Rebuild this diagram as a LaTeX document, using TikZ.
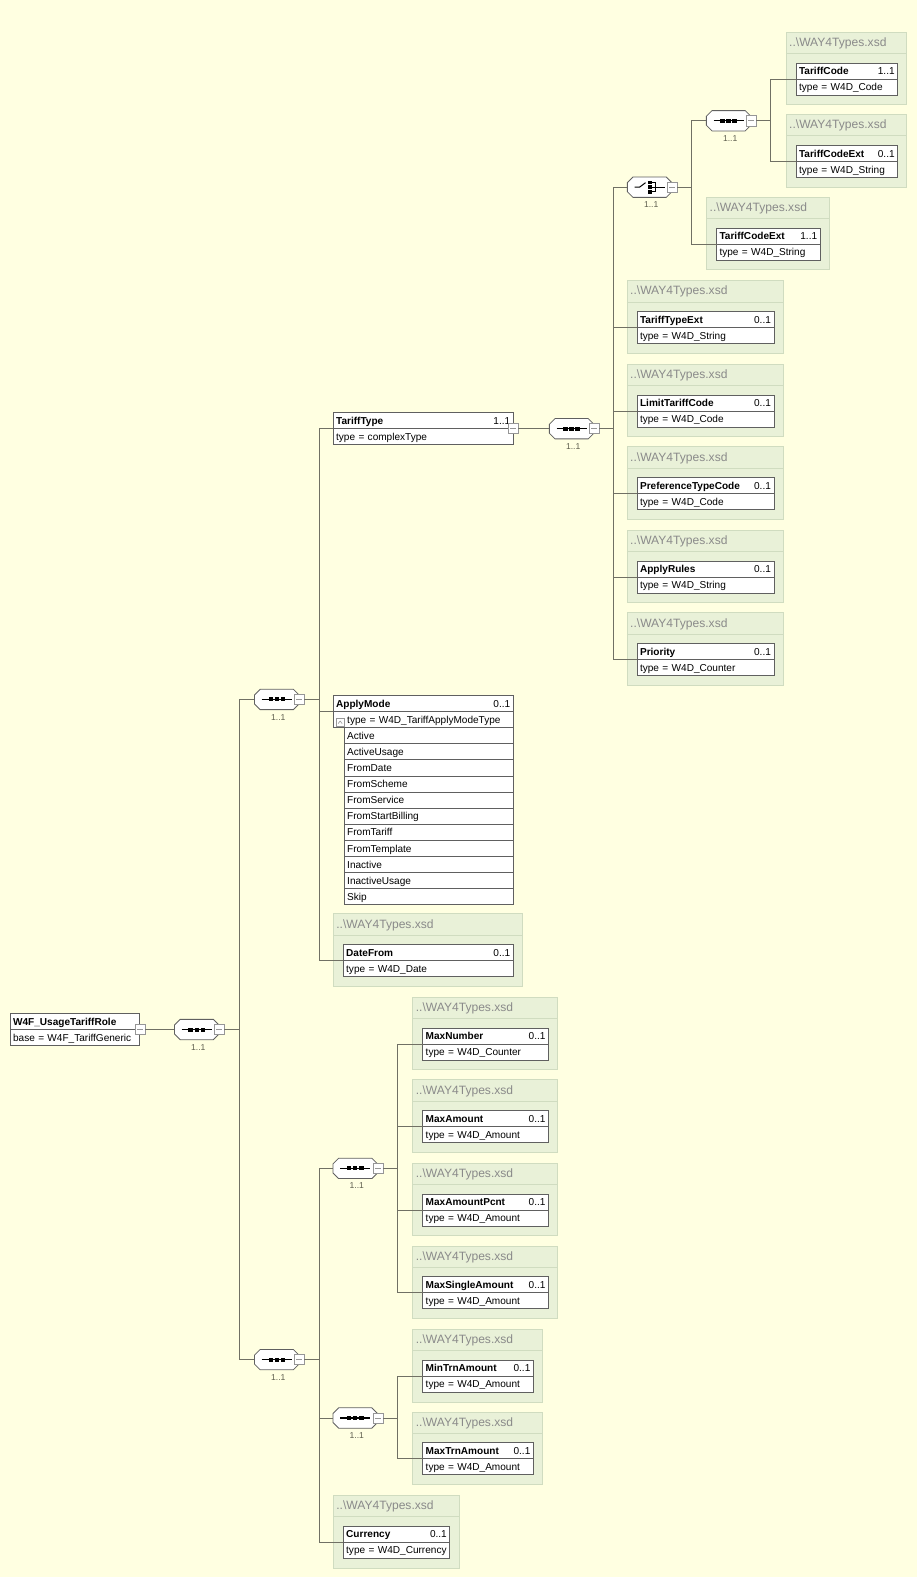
\documentclass[tikz,border=0pt]{standalone}
\usepackage{fontspec}
\setmainfont{Liberation Sans}
\definecolor{bgyellow}{RGB}{255,255,225}
\definecolor{grpfill}{RGB}{233,241,216}
\definecolor{grpline}{RGB}{208,220,192}
\definecolor{xsdgray}{RGB}{138,138,138}
\definecolor{boxline}{RGB}{96,96,96}
\definecolor{wirecol}{RGB}{112,112,100}
\definecolor{btngray}{RGB}{150,150,150}
\definecolor{multcol}{RGB}{92,92,76}
\newcommand\elfont{\fontsize{10}{12}\selectfont}
\newcommand\xsdfont{\fontsize{12}{14}\selectfont}
\newcommand\multfont{\fontsize{8.5}{10}\selectfont}
\newcommand\xsdname{..\textbackslash WAY4Types.xsd}
\newcommand\multgap{\hskip 0pt plus 1filll\relax}
\newcommand\compoutline{\draw[boxline, line width=0.8pt, fill=white]
  ([xshift=6pt,yshift=-0.4pt]path picture bounding box.north west) --
  ([xshift=-6pt,yshift=-0.4pt]path picture bounding box.north east) --
  ([xshift=-0.4pt,yshift=-6pt]path picture bounding box.north east) --
  ([xshift=-0.4pt,yshift=6pt]path picture bounding box.south east) --
  ([xshift=-6pt,yshift=0.4pt]path picture bounding box.south east) --
  ([xshift=6pt,yshift=0.4pt]path picture bounding box.south west) --
  ([xshift=0.4pt,yshift=6pt]path picture bounding box.south west) --
  ([xshift=0.4pt,yshift=-6pt]path picture bounding box.north west) -- cycle;}
\tikzset{
  wire/.style={draw=wirecol, line width=0.8pt},
  elhead/.style={draw=boxline, line width=0.8pt, fill=white, anchor=north west,
    minimum height=16pt, inner xsep=3pt, inner ysep=0pt, outer sep=0pt, text height=7.2pt,
    text depth=0pt, align=left, font=\elfont, text width=#1},
  elrow/.style={elhead=#1},
  grp/.style={draw=grpline, line width=0.8pt, fill=grpfill, anchor=north west,
    inner sep=0pt, outer sep=0pt, minimum height=72pt, minimum width=#1,
    path picture={\draw[grpline, line width=0.8pt]
      ([yshift=-21pt]path picture bounding box.north west) --
      ([yshift=-21pt]path picture bounding box.north east);}},
  grptitle/.style={anchor=west, text=xsdgray, font=\xsdfont, inner sep=0pt},
  comp/.style={minimum width=45pt, minimum height=21pt, inner sep=0pt, outer sep=0pt},
  seqcomp/.style={comp, path picture={\compoutline
    \draw[line width=1.3pt] ([xshift=-15pt]path picture bounding box.center) --
      ([xshift=15pt]path picture bounding box.center);
    \fill ([xshift=-6pt]path picture bounding box.center) +(-2.2pt,-2pt) rectangle +(2.2pt,2pt);
    \fill (path picture bounding box.center) +(-2.2pt,-2pt) rectangle +(2.2pt,2pt);
    \fill ([xshift=6pt]path picture bounding box.center) +(-2.2pt,-2pt) rectangle +(2.2pt,2pt);}},
  choicecomp/.style={comp, path picture={\compoutline
    \draw[line width=1pt] ([xshift=-15pt]path picture bounding box.center) --
      ([xshift=-10pt]path picture bounding box.center) --
      ([xshift=-4pt,yshift=4.5pt]path picture bounding box.center);
    \fill ([xshift=0.5pt,yshift=4.6pt]path picture bounding box.center) +(-2pt,-1.8pt) rectangle +(2pt,1.8pt);
    \fill ([xshift=0.5pt]path picture bounding box.center) +(-2pt,-1.8pt) rectangle +(2pt,1.8pt);
    \fill ([xshift=0.5pt,yshift=-4.6pt]path picture bounding box.center) +(-2pt,-1.8pt) rectangle +(2pt,1.8pt);
    \draw[line width=1pt] ([xshift=2pt,yshift=4.6pt]path picture bounding box.center) --
      ([xshift=6pt,yshift=4.6pt]path picture bounding box.center) --
      ([xshift=6pt,yshift=-4.6pt]path picture bounding box.center) --
      ([xshift=2pt,yshift=-4.6pt]path picture bounding box.center);
    \draw[line width=1pt] ([xshift=2pt]path picture bounding box.center) --
      ([xshift=15pt]path picture bounding box.center);}},
  minusbtn/.style={draw=btngray, line width=0.6pt, fill=white, minimum size=10pt, inner sep=0pt,
    outer sep=0pt,
    path picture={\draw[btngray, line width=0.6pt]
      ([xshift=-3pt]path picture bounding box.center) --
      ([xshift=3pt]path picture bounding box.center);}},
  upbtn/.style={draw=btngray, line width=0.6pt, fill=white, minimum size=8pt, inner sep=0pt,
    path picture={\draw[line width=0.6pt]
      ([xshift=-2pt,yshift=-1pt]path picture bounding box.center) --
      ([yshift=1.5pt]path picture bounding box.center) --
      ([xshift=2pt,yshift=-1pt]path picture bounding box.center);}},
  mult/.style={text=multcol, font=\multfont, inner sep=0pt}
}
\begin{document}
\begin{tikzpicture}[x=1pt,y=-1pt]
\fill[bgyellow] (0,0) rectangle (911,1567);
\useasboundingbox (0,0) rectangle (911,1567);

\node[elhead=123pt] (root) at (10,1007) {\textbf{W4F\_UsageTariffRole}};
\node[elrow=123pt] (rootb) at (root.south west) {base = W4F\_TariffGeneric};
\node[minusbtn] (rootm) at (root.south east) {};

\node[seqcomp] (c1) at (195.5,1023) {};
\node[minusbtn] (c1m) at (c1.east) {};
\node[mult] (c1l) at ([xshift=1.5pt,yshift=-17.5pt]c1.center) {1..1};
\coordinate (t1) at ([xshift=14.5pt]c1m.east);

\node[seqcomp] (c2) at (275,695) {};
\node[minusbtn] (c2m) at (c2.east) {};
\node[mult] (c2l) at ([xshift=1.5pt,yshift=-17.5pt]c2.center) {1..1};
\coordinate (t2) at ([xshift=14.5pt]c2m.east);

\node[elhead=173pt] (tt) at (331,410) {\textbf{TariffType}\multgap 1..1};
\node[elrow=173pt] (ttb) at (tt.south west) {type = complexType};
\node[minusbtn] (ttm) at (tt.south east) {};

\node[seqcomp] (c3) at (568,426) {};
\node[minusbtn] (c3m) at (c3.east) {};
\node[mult] (c3l) at ([xshift=1.5pt,yshift=-17.5pt]c3.center) {1..1};
\coordinate (t3) at ([xshift=14.5pt]c3m.east);

\node[choicecomp] (ch) at (645.5,186) {};
\node[minusbtn] (chm) at (ch.east) {};
\node[mult] (chl) at ([xshift=1.5pt,yshift=-17.5pt]ch.center) {1..1};
\coordinate (t4) at ([xshift=14.5pt]chm.east);

\node[seqcomp] (c4) at (724,120) {};
\node[minusbtn] (c4m) at (c4.east) {};
\node[mult] (c4l) at ([xshift=1.5pt,yshift=-17.5pt]c4.center) {1..1};
\coordinate (t5) at ([xshift=14.5pt]c4m.east);

\node[grp=120pt] (gtc) at (781,32) {};
\node[grptitle] (gtct) at ([xshift=3pt,yshift=-11pt]gtc.north west) {\xsdname};
\node[elhead=95pt] (tc) at ([xshift=10pt,yshift=-30.5pt]gtc.north west) {\textbf{TariffCode}\multgap 1..1};
\node[elrow=95pt] (tcb) at (tc.south west) {type = W4D\_Code};

\node[grp=120pt] (gtcx) at (781,114) {};
\node[grptitle] (gtcxt) at ([xshift=3pt,yshift=-11pt]gtcx.north west) {\xsdname};
\node[elhead=95pt] (tcx) at ([xshift=10pt,yshift=-30.5pt]gtcx.north west) {\textbf{TariffCodeExt}\multgap 0..1};
\node[elrow=95pt] (tcxb) at (tcx.south west) {type = W4D\_String};

\node[grp=122pt] (gtce) at (702,196) {};
\node[grptitle] (gtcet) at ([xshift=3pt,yshift=-11pt]gtce.north west) {\xsdname};
\node[elhead=97pt] (tce) at ([xshift=10pt,yshift=-30.5pt]gtce.north west) {\textbf{TariffCodeExt}\multgap 1..1};
\node[elrow=97pt] (tceb) at (tce.south west) {type = W4D\_String};

\node[grp=155pt] (gtte) at (623,279) {};
\node[grptitle] (gttet) at ([xshift=3pt,yshift=-11pt]gtte.north west) {\xsdname};
\node[elhead=130pt] (tte) at ([xshift=10pt,yshift=-30.5pt]gtte.north west) {\textbf{TariffTypeExt}\multgap 0..1};
\node[elrow=130pt] (tteb) at (tte.south west) {type = W4D\_String};

\node[grp=155pt] (gltc) at (623,362) {};
\node[grptitle] (gltct) at ([xshift=3pt,yshift=-11pt]gltc.north west) {\xsdname};
\node[elhead=130pt] (ltc) at ([xshift=10pt,yshift=-30.5pt]gltc.north west) {\textbf{LimitTariffCode}\multgap 0..1};
\node[elrow=130pt] (ltcb) at (ltc.south west) {type = W4D\_Code};

\node[grp=155pt] (gptc) at (623,444) {};
\node[grptitle] (gptct) at ([xshift=3pt,yshift=-11pt]gptc.north west) {\xsdname};
\node[elhead=130pt] (ptc) at ([xshift=10pt,yshift=-30.5pt]gptc.north west) {\textbf{PreferenceTypeCode}\multgap 0..1};
\node[elrow=130pt] (ptcb) at (ptc.south west) {type = W4D\_Code};

\node[grp=155pt] (gar) at (623,527) {};
\node[grptitle] (gart) at ([xshift=3pt,yshift=-11pt]gar.north west) {\xsdname};
\node[elhead=130pt] (ar) at ([xshift=10pt,yshift=-30.5pt]gar.north west) {\textbf{ApplyRules}\multgap 0..1};
\node[elrow=130pt] (arb) at (ar.south west) {type = W4D\_String};

\node[grp=155pt] (gpr) at (623,609) {};
\node[grptitle] (gprt) at ([xshift=3pt,yshift=-11pt]gpr.north west) {\xsdname};
\node[elhead=130pt] (pr) at ([xshift=10pt,yshift=-30.5pt]gpr.north west) {\textbf{Priority}\multgap 0..1};
\node[elrow=130pt] (prb) at (pr.south west) {type = W4D\_Counter};

\node[elhead=173pt] (am) at (331,691) {\textbf{ApplyMode}\multgap 0..1};
\node[elrow=173pt] (amt) at (am.south west) {\hspace*{11pt}type = W4D\_TariffApplyModeType};
\node[upbtn] (amu) at ([xshift=7pt,yshift=5pt]amt.south west) {};
\node[elrow=162pt] (amv1) at ([xshift=11pt]amt.south west) {Active};
\node[elrow=162pt] (amv2) at (amv1.south west) {ActiveUsage};
\node[elrow=162pt] (amv3) at (amv2.south west) {FromDate};
\node[elrow=162pt] (amv4) at (amv3.south west) {FromScheme};
\node[elrow=162pt] (amv5) at (amv4.south west) {FromService};
\node[elrow=162pt] (amv6) at (amv5.south west) {FromStartBilling};
\node[elrow=162pt] (amv7) at (amv6.south west) {FromTariff};
\node[elrow=162pt] (amv8) at (amv7.south west) {FromTemplate};
\node[elrow=162pt] (amv9) at (amv8.south west) {Inactive};
\node[elrow=162pt] (amv10) at (amv9.south west) {InactiveUsage};
\node[elrow=162pt] (amv11) at (amv10.south west) {Skip};

\node[grp=188pt] (gdf) at (331,908) {};
\node[grptitle] (gdft) at ([xshift=3pt,yshift=-11pt]gdf.north west) {\xsdname};
\node[elhead=163pt] (df) at ([xshift=10pt,yshift=-30.5pt]gdf.north west) {\textbf{DateFrom}\multgap 0..1};
\node[elrow=163pt] (dfb) at (df.south west) {type = W4D\_Date};

\node[seqcomp] (c5) at (275,1351) {};
\node[minusbtn] (c5m) at (c5.east) {};
\node[mult] (c5l) at ([xshift=1.5pt,yshift=-17.5pt]c5.center) {1..1};
\coordinate (t6) at ([xshift=14.5pt]c5m.east);

\node[seqcomp] (c6) at (353,1161) {};
\node[minusbtn] (c6m) at (c6.east) {};
\node[mult] (c6l) at ([xshift=1.5pt,yshift=-17.5pt]c6.center) {1..1};
\coordinate (t7) at ([xshift=14.5pt]c6m.east);

\node[seqcomp] (c7) at (353,1409) {};
\node[minusbtn] (c7m) at (c7.east) {};
\node[mult] (c7l) at ([xshift=1.5pt,yshift=-17.5pt]c7.center) {1..1};
\coordinate (t8) at ([xshift=14.5pt]c7m.east);

\node[grp=144pt] (gmn) at (410,991) {};
\node[grptitle] (gmnt) at ([xshift=3pt,yshift=-11pt]gmn.north west) {\xsdname};
\node[elhead=119pt] (mn) at ([xshift=10pt,yshift=-30.5pt]gmn.north west) {\textbf{MaxNumber}\multgap 0..1};
\node[elrow=119pt] (mnb) at (mn.south west) {type = W4D\_Counter};

\node[grp=144pt] (gma) at (410,1073) {};
\node[grptitle] (gmat) at ([xshift=3pt,yshift=-11pt]gma.north west) {\xsdname};
\node[elhead=119pt] (ma) at ([xshift=10pt,yshift=-30.5pt]gma.north west) {\textbf{MaxAmount}\multgap 0..1};
\node[elrow=119pt] (mab) at (ma.south west) {type = W4D\_Amount};

\node[grp=144pt] (gmap) at (410,1156) {};
\node[grptitle] (gmapt) at ([xshift=3pt,yshift=-11pt]gmap.north west) {\xsdname};
\node[elhead=119pt] (map) at ([xshift=10pt,yshift=-30.5pt]gmap.north west) {\textbf{MaxAmountPcnt}\multgap 0..1};
\node[elrow=119pt] (mapb) at (map.south west) {type = W4D\_Amount};

\node[grp=144pt] (gmsa) at (410,1238) {};
\node[grptitle] (gmsat) at ([xshift=3pt,yshift=-11pt]gmsa.north west) {\xsdname};
\node[elhead=119pt] (msa) at ([xshift=10pt,yshift=-30.5pt]gmsa.north west) {\textbf{MaxSingleAmount}\multgap 0..1};
\node[elrow=119pt] (msab) at (msa.south west) {type = W4D\_Amount};

\node[grp=129pt] (gmnt) at (410,1321) {};
\node[grptitle] (gmntt) at ([xshift=3pt,yshift=-11pt]gmnt.north west) {\xsdname};
\node[elhead=104pt] (mnt) at ([xshift=10pt,yshift=-30.5pt]gmnt.north west) {\textbf{MinTrnAmount}\multgap 0..1};
\node[elrow=104pt] (mntb) at (mnt.south west) {type = W4D\_Amount};

\node[grp=129pt] (gmxt) at (410,1403) {};
\node[grptitle] (gmxtt) at ([xshift=3pt,yshift=-11pt]gmxt.north west) {\xsdname};
\node[elhead=104pt] (mxt) at ([xshift=10pt,yshift=-30.5pt]gmxt.north west) {\textbf{MaxTrnAmount}\multgap 0..1};
\node[elrow=104pt] (mxtb) at (mxt.south west) {type = W4D\_Amount};

\node[grp=125pt] (gcur) at (331,1486) {};
\node[grptitle] (gcurt) at ([xshift=3pt,yshift=-11pt]gcur.north west) {\xsdname};
\node[elhead=100pt] (cur) at ([xshift=10pt,yshift=-30.5pt]gcur.north west) {\textbf{Currency}\multgap 0..1};
\node[elrow=100pt] (curb) at (cur.south west) {\mbox{type = W4D\_Currency}};

\draw[wire] (rootm.east) -- (c1.west);
\draw[wire] (c1m.east) -- (t1) (t1) |- (c2.west) (t1) |- (c5.west);
\draw[wire] (c2m.east) -- (t2) (t2) |- (tt.south west) (t2) |- (am.south west) (t2) |- (df.south west);
\draw[wire] (ttm.east) -- (c3.west);
\draw[wire] (c3m.east) -- (t3) (t3) |- (ch.west) (t3) |- (tte.south west) (t3) |- (ltc.south west)
  (t3) |- (ptc.south west) (t3) |- (ar.south west) (t3) |- (pr.south west);
\draw[wire] (chm.east) -- (t4) (t4) |- (c4.west) (t4) |- (tce.south west);
\draw[wire] (c4m.east) -- (t5) (t5) |- (tc.south west) (t5) |- (tcx.south west);
\draw[wire] (c5m.east) -- (t6) (t6) |- (c6.west) (t6) |- (c7.west) (t6) |- (cur.south west);
\draw[wire] (c6m.east) -- (t7) (t7) |- (mn.south west) (t7) |- (ma.south west)
  (t7) |- (map.south west) (t7) |- (msa.south west);
\draw[wire] (c7m.east) -- (t8) (t8) |- (mnt.south west) (t8) |- (mxt.south west);
\end{tikzpicture}
\end{document}
